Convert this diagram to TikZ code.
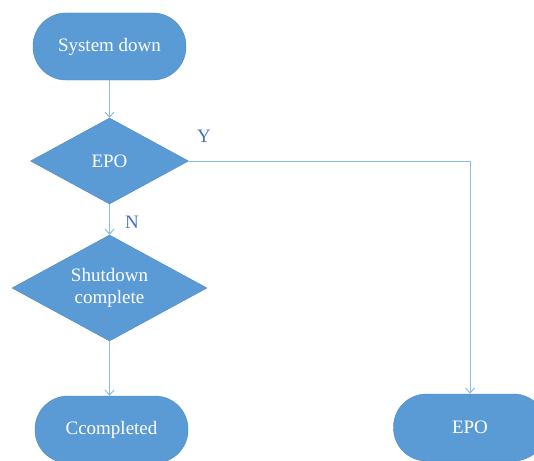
\documentclass[tikz,border=0pt]{standalone}
\usepackage{fontspec}
\setmainfont{Liberation Serif}
\usepackage{tikz}
\usepackage{xcolor}
\usetikzlibrary{shapes.geometric,arrows.meta}
\definecolor{boxblue}{HTML}{5B9BD5}
\definecolor{edgeblue}{HTML}{4A86C0}
\definecolor{lineblue}{HTML}{8DBBE8}
\definecolor{labelblue}{HTML}{4472C4}
\tikzset{
    end-box/.style = {draw=edgeblue, fill=boxblue, text=white, rectangle, rounded corners=33pt, minimum width=153pt, minimum height=67pt, font=\fontsize{19}{21}\selectfont},
    test-box/.style = {draw=edgeblue, fill=boxblue, text=white, diamond, aspect=1.8, inner sep=0pt, align=center, font=\fontsize{19}{22}\selectfont},
    flow-line/.style = {draw=lineblue, line width=1pt, -{Straight Barb[length=5pt,width=9pt]}},
    flow-label/.style = {text=labelblue, font=\fontsize{19}{21}\selectfont},
}

\begin{document}
\begin{tikzpicture}[x=1pt,y=-1pt]
\useasboundingbox (0,0) rectangle (534,460);
\clip (0,0) rectangle (534,460);
\node [end-box] (down) at (109.5,46.5) {System down};
\node [test-box, minimum width=158pt, minimum height=86pt] (epo) at (109.5,161) {EPO};
\node [test-box, minimum width=195pt, minimum height=106pt] (shut) at (109.5,288) {Shutdown\\complete};
\node [end-box] (done) at (111.5,429.5) {Ccompleted};
\node [end-box] (off) at (470,427.5) {EPO};
\draw [flow-line] (down) -- (epo);
\draw [flow-line] (epo) -- (shut);
\draw [flow-line] (shut) -- (shut |- done.north);
\draw [flow-line] (epo.east) -| (off.north);
\node [flow-label] (yes) at (204,136) {Y};
\node [flow-label] (no) at (132,222) {N};
\end{tikzpicture}
\end{document}
